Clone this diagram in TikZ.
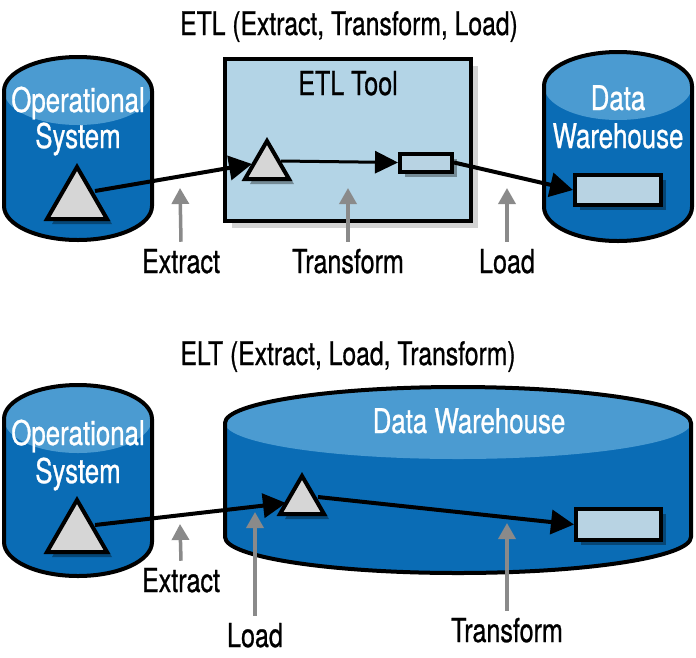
\documentclass[tikz,border=0pt]{standalone}
\usepackage{fontspec}
\setmainfont{TeX Gyre Heros}[FakeStretch=0.76,FakeBold=0.8]
\usetikzlibrary{arrows.meta,shadows}
\definecolor{dkblue}{HTML}{0A6CB5}
\definecolor{ltblue}{HTML}{4B9BD1}
\definecolor{boxblue}{HTML}{B3D4E6}
\definecolor{rectfill}{HTML}{B8D3E3}
\definecolor{trifill}{HTML}{D6D6D6}
\definecolor{arrowgray}{HTML}{8A8A8A}
\newcommand\mycyl[5]{%
  \fill[dkblue] (#1-#2,#3) -- (#1-#2,#4) arc[start angle=180,end angle=360,x radius=#2pt,y radius=#5pt]
    -- (#1+#2,#3) arc[start angle=0,end angle=180,x radius=#2pt,y radius=#5pt] -- cycle;
  \fill[ltblue] (#1,#3) ellipse [x radius=#2pt, y radius=#5pt];
  \draw[line width=4pt,line join=round] (#1-#2,#3) -- (#1-#2,#4) arc[start angle=180,end angle=360,x radius=#2pt,y radius=#5pt]
    -- (#1+#2,#3) arc[start angle=0,end angle=180,x radius=#2pt,y radius=#5pt] -- cycle;
}
\newcommand\mytri[5]{% apex x, apex y, base y, half width, shadow offset
  \fill[black,opacity=0.35] (#1+#5,#2+#5) -- (#1-#4+#5,#3+#5) -- (#1+#4+#5,#3+#5) -- cycle;
  \draw[line width=4pt,line join=miter,fill=trifill] (#1,#2) -- (#1-#4,#3) -- (#1+#4,#3) -- cycle;
}
\begin{document}
\begin{tikzpicture}[x=1pt,y=-1pt,
  lbl/.style={font=\fontsize{33}{36}\selectfont, inner sep=0pt, anchor=base},
  cyltxt/.style={font=\fontsize{34}{36}\selectfont, text=white, inner sep=0pt, anchor=base},
  ttl/.style={font=\fontsize{32.5}{34}\selectfont, inner sep=0pt, anchor=base},
  flow/.style={line width=4pt, -{Triangle[length=23pt,width=24pt]}},
  thinflow/.style={line width=3pt, -{Triangle[length=23pt,width=22pt]}},
  grayarrow/.style={arrowgray, line width=3.5pt, -{Triangle[length=16pt,width=17pt]}},
  databox/.style={draw, line width=4pt, fill=rectfill, inner sep=0pt,
    drop shadow={shadow xshift=5pt, shadow yshift=-5pt, opacity=0.35, fill=black}},
  toolbox/.style={draw, line width=3.5pt, fill=boxblue, inner sep=0pt,
    drop shadow={shadow xshift=7pt, shadow yshift=-7pt, opacity=0.35, fill=gray}}
]
\useasboundingbox (0,0) rectangle (696,657);

% ---------------- ETL ----------------
\node[ttl] (title1) at (349,35) {ETL (Extract, Transform, Load)};

\mycyl{78}{74}{91}{206}{34}
\node[cyltxt] (op1a) at (78,112) {Operational};
\node[cyltxt] (op1b) at (78,148) {System};

\node[toolbox, minimum width=246pt, minimum height=162pt] (tool) at (348,140) {};
\node[lbl] (tooltxt) at (348,95) {ETL Tool};

\mycyl{618}{74}{86}{207}{34}
\node[cyltxt] (dw1a) at (618,110) {Data};
\node[cyltxt] (dw1b) at (618,148) {Warehouse};

\mytri{77}{167}{219}{30}{5}
\mytri{267}{141}{179}{22}{5}
\coordinate (t1out) at (95,191);
\coordinate (t2in) at (252,164);
\coordinate (t2out) at (281,161);

\node[databox, minimum width=52pt, minimum height=18pt] (r1) at (426,162.5) {};
\node[databox, minimum width=86pt, minimum height=30pt] (r2) at (618,190) {};

\draw[flow] (t1out) -- (t2in);
\draw[thinflow] (t2out) -- (r1.west);
\draw[flow] (r1.east) -- (r2.west);

\node[lbl] (ex1) at (181,273) {Extract};
\node[lbl] (tr1) at (348,273) {Transform};
\node[lbl] (ld1) at (507,273) {Load};
\coordinate (ex1tip) at (180,188);
\coordinate (tr1tip) at (348,188);
\coordinate (ld1tip) at (507,188);
\draw[grayarrow] ([yshift=7pt]ex1.north) -- (ex1tip);
\draw[grayarrow] ([yshift=7pt]tr1.north) -- (tr1tip);
\draw[grayarrow] ([yshift=7pt]ld1.north) -- (ld1tip);

% ---------------- ELT ----------------
\node[ttl] (title2) at (348,365) {ELT (Extract, Load, Transform)};

\mycyl{78}{74}{419}{542}{34}
\node[cyltxt] (op2a) at (78,445) {Operational};
\node[cyltxt] (op2b) at (78,483) {System};

\mycyl{458}{233}{423}{537}{36}
\node[cyltxt] (dw2) at (469,433) {Data Warehouse};

\mytri{77}{500}{552}{30}{5}
\mytri{302}{476}{514}{22}{5}
\coordinate (t3out) at (95,525);
\coordinate (t4in) at (286,503);
\coordinate (t4out) at (318,497);

\node[databox, minimum width=85pt, minimum height=31pt] (r3) at (618.5,524.5) {};

\draw[flow] (t3out) -- (t4in);
\draw[flow] (t4out) -- (r3.west);

\node[lbl] (ex2) at (181,592) {Extract};
\node[lbl] (ld2) at (255,647) {Load};
\node[lbl] (tr2) at (507,642) {Transform};
\coordinate (ex2tip) at (180,524);
\coordinate (ld2tip) at (255,512);
\coordinate (tr2tip) at (507,523);
\draw[grayarrow] ([yshift=7pt]ex2.north) -- (ex2tip);
\draw[grayarrow] ([yshift=7pt]ld2.north) -- (ld2tip);
\draw[grayarrow] ([yshift=7pt]tr2.north) -- (tr2tip);
\end{tikzpicture}
\end{document}
